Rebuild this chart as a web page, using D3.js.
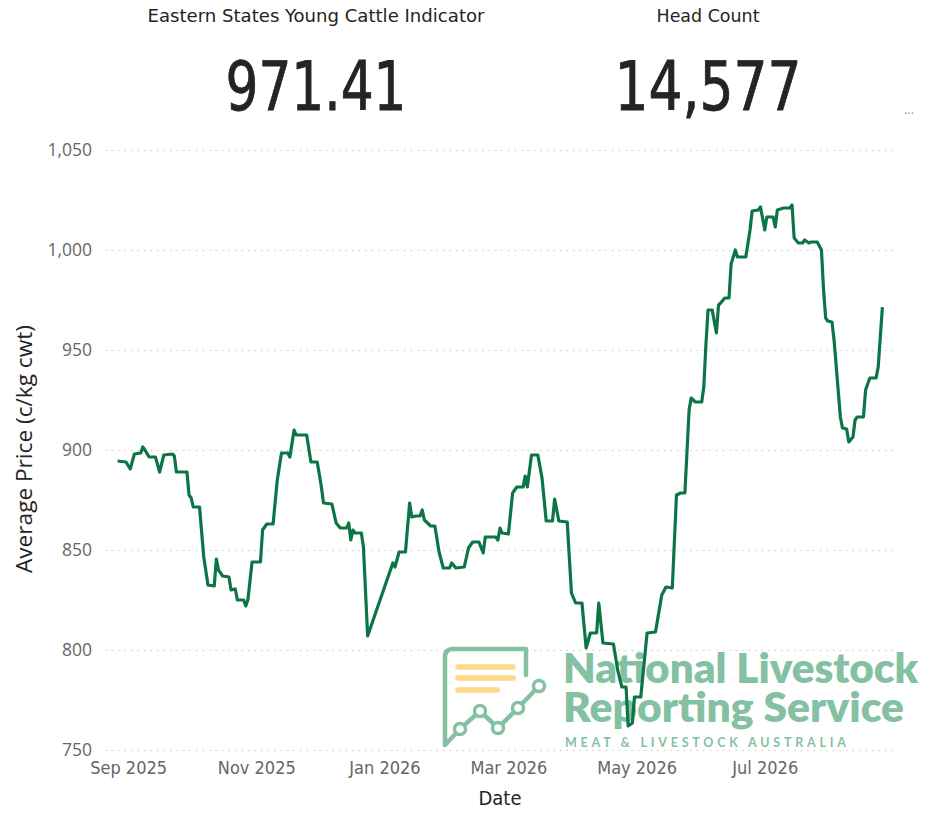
<!DOCTYPE html>
<html>
<head>
<meta charset="utf-8">
<script src="https://cdn.jsdelivr.net/npm/d3@7"></script>
<style>
  body { margin: 0; background: #fff; }
  svg { display: block; }
</style>
</head>
<body>
<div id="root"></div>
<script>
// Card values
const cardTitles = ['Eastern States Young Cattle Indicator', 'Head Count'];
const cardValues = ['971.41', '14,577'];

// Indicator series (c/kg cwt)
const dates = [
  '2025-08-27','2025-08-31','2025-09-02','2025-09-04','2025-09-07','2025-09-08','2025-09-09','2025-09-11',
  '2025-09-14','2025-09-16','2025-09-18','2025-09-22','2025-09-23','2025-09-24','2025-09-29','2025-09-30',
  '2025-10-01','2025-10-02','2025-10-05','2025-10-07','2025-10-09','2025-10-12','2025-10-13','2025-10-14',
  '2025-10-16','2025-10-19','2025-10-20','2025-10-22','2025-10-23','2025-10-26','2025-10-27','2025-10-28',
  '2025-10-30','2025-11-03','2025-11-04','2025-11-06','2025-11-09','2025-11-11','2025-11-13','2025-11-16',
  '2025-11-17','2025-11-19','2025-11-20','2025-11-25','2025-11-27','2025-11-30','2025-12-02','2025-12-03',
  '2025-12-07','2025-12-09','2025-12-11','2025-12-14','2025-12-15','2025-12-16','2025-12-17','2025-12-18',
  '2025-12-21','2025-12-22','2025-12-24','2026-01-05','2026-01-06','2026-01-08','2026-01-11','2026-01-13',
  '2026-01-14','2026-01-16','2026-01-18','2026-01-19','2026-01-20','2026-01-21','2026-01-23','2026-01-25',
  '2026-01-27','2026-01-28','2026-01-29','2026-02-01','2026-02-02','2026-02-04','2026-02-08','2026-02-10',
  '2026-02-12','2026-02-15','2026-02-17','2026-02-18','2026-02-23','2026-02-24','2026-02-25','2026-02-26',
  '2026-03-01','2026-03-03','2026-03-05','2026-03-08','2026-03-09','2026-03-10','2026-03-12','2026-03-15',
  '2026-03-17','2026-03-19','2026-03-22','2026-03-23','2026-03-25','2026-03-29','2026-03-31','2026-04-02',
  '2026-04-05','2026-04-07','2026-04-09','2026-04-12','2026-04-13','2026-04-15','2026-04-20','2026-04-22',
  '2026-04-24','2026-04-26','2026-04-27','2026-04-29','2026-04-30','2026-05-03','2026-05-06','2026-05-10',
  '2026-05-13','2026-05-15','2026-05-18','2026-05-20','2026-05-22','2026-05-24','2026-05-26','2026-05-27',
  '2026-05-29','2026-06-01','2026-06-02','2026-06-03','2026-06-04','2026-06-06','2026-06-08','2026-06-09',
  '2026-06-10','2026-06-12','2026-06-14','2026-06-15','2026-06-17','2026-06-18','2026-06-22','2026-06-24',
  '2026-06-25','2026-06-28','2026-06-29','2026-07-01','2026-07-02','2026-07-05','2026-07-06','2026-07-07',
  '2026-07-10','2026-07-13','2026-07-14','2026-07-15','2026-07-17','2026-07-19','2026-07-20','2026-07-22',
  '2026-07-23','2026-07-26','2026-07-28','2026-07-29','2026-07-30','2026-07-31','2026-08-02','2026-08-03',
  '2026-08-06','2026-08-07','2026-08-09','2026-08-10','2026-08-12','2026-08-13','2026-08-14','2026-08-17',
  '2026-08-18','2026-08-20','2026-08-23','2026-08-24','2026-08-26'
];
const prices = [
  894.5, 894, 890.5, 898, 898.5, 901.5, 900, 896.5,
  896.5, 889, 897.5, 898, 897, 889, 889, 877.5,
  876, 871.5, 871.5, 846.5, 832.5, 832, 845.5, 840,
  837, 836.5, 830, 830.5, 825, 825, 822, 825,
  844, 844, 860, 863, 863, 885, 898.5, 898.5,
  896.5, 910, 907.5, 907.5, 894, 894, 881.5, 873.5,
  873, 863.5, 861, 861, 863.5, 855, 860, 858.5,
  858.5, 851.5, 807, 843.5, 841.5, 849, 849, 873.5,
  866.5, 867, 867, 870, 865, 864, 862, 862,
  849, 845, 841, 841, 843.5, 841, 841.5, 851,
  854, 854, 848.5, 856.5, 856.5, 855, 861, 858.5,
  858, 878.5, 881.5, 881.5, 887, 881.5, 897.5, 897.5,
  886, 864.5, 864.5, 875.5, 864.5, 864, 828.5, 823.5,
  823.5, 801, 808.5, 808.5, 823.5, 803.5, 803, 790,
  781.5, 781.5, 762, 763.5, 776.5, 776.5, 808.5, 809,
  827.5, 831.5, 831, 877.5, 878.5, 878.5, 920, 926,
  924, 924, 931.5, 952.5, 970, 970, 958.5, 972.5,
  973.5, 976, 976, 993, 1000, 996.5, 996.5, 1010,
  1019.5, 1020, 1021.5, 1010, 1016.5, 1016.5, 1011.5, 1020,
  1021, 1021, 1022.5, 1006, 1003.5, 1003.5, 1005, 1003.5,
  1004, 1004, 1000, 980, 966, 964.5, 964, 955,
  916.5, 911, 910.5, 904, 906.5, 915, 916.5, 916.5,
  930, 936, 936, 941.5, 971.41
];

// Axes
const yTicks = [750, 800, 850, 900, 950, 1000, 1050];
const xTickDates = ['2025-09-01', '2025-11-01', '2026-01-01', '2026-03-01', '2026-05-01', '2026-07-01'];
const xTickLabels = ['Sep 2025', 'Nov 2025', 'Jan 2026', 'Mar 2026', 'May 2026', 'Jul 2026'];
const xDomain = ['2025-08-21', '2026-09-01'];

const width = 931;
const height = 821;
const plot = { left: 105, right: 895, top: 150, bottom: 750 };
const dinFont = "'DejaVu Sans', sans-serif";
const uiFont = "'Open Sans', 'Noto Sans', sans-serif";

const parse = d3.timeParse('%Y-%m-%d');
const series = dates.map((d, i) => ({ date: parse(d), value: prices[i] }));

const svg = d3.select('#root')
  .append('svg')
    .attr('width', width)
    .attr('height', height);

// Cards
const cardX = [316, 708];
const titleWidths = [337, 103];
const valueWidths = [181, 187];
cardTitles.forEach((t, i) => {
  svg.append('text')
    .attr('x', cardX[i] - titleWidths[i] / 2).attr('y', 22)
    .attr('font-family', dinFont)
    .attr('font-stretch', 'condensed')
    .attr('font-size', 17)
    .attr('textLength', titleWidths[i])
    .attr('lengthAdjust', 'spacingAndGlyphs')
    .attr('fill', '#252423')
    .text(t);
  svg.append('text')
    .attr('x', cardX[i] - valueWidths[i] / 2).attr('y', 110)
    .attr('font-family', dinFont)
    .attr('font-stretch', 'condensed')
    .attr('font-size', 67)
    .attr('textLength', valueWidths[i])
    .attr('lengthAdjust', 'spacingAndGlyphs')
    .attr('fill', '#252423')
    .attr('stroke', '#252423')
    .attr('stroke-width', 0.8)
    .text(cardValues[i]);
});
svg.append('text')
  .attr('x', 909).attr('y', 114)
  .attr('text-anchor', 'middle')
  .attr('font-family', uiFont)
  .attr('font-size', 13)
  .attr('fill', '#999')
  .text('...');

const x = d3.scaleTime()
  .domain(xDomain.map(parse))
  .range([plot.left, plot.right]);

const y = d3.scaleLinear()
  .domain([750, 1050])
  .range([plot.bottom, plot.top]);

// Y grid + labels
const yAxis = svg.append('g')
  .attr('transform', `translate(${plot.left}, 0)`)
  .call(d3.axisLeft(y)
    .tickValues(yTicks)
    .tickSize(-(plot.right - plot.left))
    .tickPadding(13)
    .tickFormat(d3.format(',')));
yAxis.select('.domain').remove();
yAxis.selectAll('.tick line')
  .attr('stroke', '#c8c8c8')
  .attr('stroke-dasharray', '1.5,5');
yAxis.selectAll('.tick text')
  .attr('font-family', uiFont)
  .attr('font-size', 17.5)
  .attr('fill', '#666');

// X axis labels
const xAxis = svg.append('g')
  .attr('transform', `translate(0, ${plot.bottom})`)
  .call(d3.axisBottom(x)
    .tickValues(xTickDates.map(parse))
    .tickSize(0)
    .tickPadding(11)
    .tickFormat((d, i) => xTickLabels[i]));
xAxis.select('.domain').remove();
xAxis.selectAll('.tick text')
  .attr('font-family', dinFont)
  .attr('font-stretch', 'condensed')
  .attr('font-size', 18)
  .attr('fill', '#666');

// Axis titles
svg.append('text')
  .attr('transform', `translate(32, 449) rotate(-90)`)
  .attr('text-anchor', 'middle')
  .attr('font-family', uiFont)
  .attr('font-size', 22)
  .attr('textLength', 248)
  .attr('lengthAdjust', 'spacingAndGlyphs')
  .attr('fill', '#252423')
  .text('Average Price (c/kg cwt)');
svg.append('text')
  .attr('x', 500).attr('y', 805)
  .attr('text-anchor', 'middle')
  .attr('font-family', dinFont)
  .attr('font-stretch', 'condensed')
  .attr('font-size', 20)
  .attr('fill', '#252423')
  .text('Date');

// Watermark logo
const logoGreen = '#84c1a3';
const logoYellow = '#fdd886';
const logo = svg.append('g');
logo.append('path')
  .attr('d', 'M526,675 L526,649 L453,649 Q445,649 445,657 L445,745 L460,729')
  .attr('fill', 'none')
  .attr('stroke', logoGreen)
  .attr('stroke-width', 4.5)
  .attr('stroke-linecap', 'round')
  .attr('stroke-linejoin', 'round');
[[458, 513, 667], [458, 513, 678], [458, 497, 690]].forEach(([x1, x2, yy]) => {
  logo.append('line')
    .attr('x1', x1).attr('x2', x2).attr('y1', yy).attr('y2', yy)
    .attr('stroke', logoYellow)
    .attr('stroke-width', 5.5)
    .attr('stroke-linecap', 'round');
});
const nodes = [[460, 729], [480, 711], [498, 728], [518, 708], [539, 686]];
logo.append('polyline')
  .attr('points', nodes.map(p => p.join(',')).join(' '))
  .attr('fill', 'none')
  .attr('stroke', logoGreen)
  .attr('stroke-width', 4.5);
logo.selectAll('circle')
  .data(nodes)
  .enter()
  .append('circle')
    .attr('cx', d => d[0]).attr('cy', d => d[1])
    .attr('r', 5.5)
    .attr('fill', '#fff')
    .attr('stroke', logoGreen)
    .attr('stroke-width', 3.5);
// two-line wordmark in one text element
const word = logo.append('text')
  .attr('font-family', "'Lato', 'Open Sans', sans-serif")
  .attr('font-weight', 800)
  .attr('font-size', 41)
  .attr('fill', logoGreen);
word.append('tspan')
  .attr('x', 563).attr('y', 683)
  .attr('textLength', 355)
  .attr('lengthAdjust', 'spacingAndGlyphs')
  .text('National Livestock');
word.append('tspan')
  .attr('x', 563).attr('y', 722)
  .attr('textLength', 341)
  .attr('lengthAdjust', 'spacingAndGlyphs')
  .text('Reporting Service');
logo.append('text')
  .attr('x', 565).attr('y', 747)
  .attr('font-family', "'Lato', 'Open Sans', sans-serif")
  .attr('font-weight', 700)
  .attr('font-size', 12.5)
  .attr('textLength', 281)
  .attr('lengthAdjust', 'spacing')
  .attr('fill', logoGreen)
  .text('MEAT & LIVESTOCK AUSTRALIA');

// Price line
svg.append('path')
  .datum(series)
  .attr('fill', 'none')
  .attr('stroke', '#0b7546')
  .attr('stroke-width', 3.2)
  .attr('stroke-linejoin', 'round')
  .attr('d', d3.line()
    .x(d => x(d.date))
    .y(d => y(d.value)));
</script>
</body>
</html>
